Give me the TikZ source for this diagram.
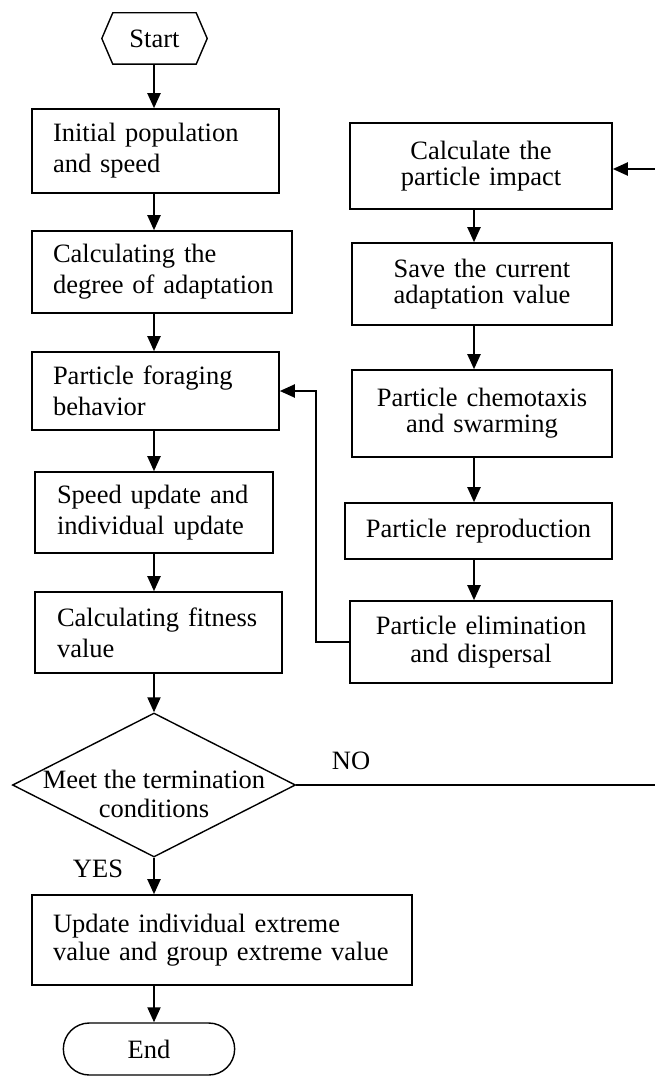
\documentclass[tikz,border=0pt]{standalone}
\usepackage{fontspec}
\setmainfont{Liberation Serif}
\usetikzlibrary{arrows.meta,shapes.geometric,shapes.misc,calc}
\begin{document}
\begin{tikzpicture}[x=1pt,y=-1pt,
  box/.style={draw,line width=1.6pt,rectangle,inner ysep=0pt,font=\fontsize{26.5}{31}\selectfont},
  lbox/.style={box,align=left,inner xsep=21pt},
  rbox/.style={box,align=center,inner xsep=8pt,font=\fontsize{26.5}{26}\selectfont},
  arr/.style={line width=2pt,-{Triangle[width=13pt,length=15pt]}},
  lbl/.style={font=\fontsize{26.5}{29}\selectfont,inner sep=0pt}]
\useasboundingbox (0,0) rectangle (655,1081);
% column coordinates
\coordinate (cL) at (154,0);
\coordinate (cR) at (474,0);
\coordinate (inR) at (655,169);
\coordinate (outR) at (655,785);
\coordinate (fb) at (316,642);
% start
\node[minimum width=105pt,minimum height=51pt,inner sep=0pt,font=\fontsize{26.5}{31}\selectfont] (start) at (154.5,38.5) {Start};
\draw[line width=1.4pt] (start.west) -- ($(start.north west)+(11,0)$) -- ($(start.north east)+(-11,0)$) -- (start.east) -- ($(start.south east)+(-11,0)$) -- ($(start.south west)+(11,0)$) -- cycle;
% left column
\node[lbox,text width=205pt,minimum height=84pt] (b1) at (155.5,151) {\mbox{Initial population}\\and speed};
\node[lbox,text width=218pt,minimum height=82pt] (b2) at (162,272) {\mbox{Calculating the}\\\mbox{degree of adaptation}};
\node[lbox,text width=205pt,minimum height=78pt] (b3) at (155.5,391) {\mbox{Particle foraging}\\behavior};
\node[lbox,inner xsep=22pt,text width=194pt,minimum height=81pt] (b4) at (154,512.5) {\mbox{Speed update and}\\\mbox{individual update}};
\node[lbox,inner xsep=22pt,text width=203pt,minimum height=81pt] (b5) at (158.5,632.5) {\mbox{Calculating fitness}\\value};
\node[diamond,draw,line width=1.4pt,inner sep=0pt,minimum width=283pt,minimum height=144pt] (d) at (154,785) {};
\node[lbl,align=center] (dt) at (154,794) {Meet the termination\\conditions};
\node[lbox,text width=338pt,minimum height=90pt,font=\fontsize{26.5}{28}\selectfont] (b6) at (222,940) {\mbox{Update individual extreme}\\\mbox{value and group extreme value}};
\node[rounded rectangle,draw,line width=1.4pt,minimum width=178pt,minimum height=52pt,font=\fontsize{26.5}{31}\selectfont] (end) at (149,1049) {End};
% right column
\node[rbox,text width=246pt,minimum height=86pt] (rA) at (481,166) {Calculate the\\particle impact};
\node[rbox,text width=244pt,minimum height=82pt] (rB) at (482,284) {Save the current\\adaptation value};
\node[rbox,text width=244pt,minimum height=87pt] (rC) at (482,413.5) {\mbox{Particle chemotaxis}\\and swarming};
\node[rbox,text width=251pt,minimum height=56pt] (rD) at (478.5,531) {\mbox{Particle reproduction}};
\node[rbox,text width=246pt,minimum height=82pt,font=\fontsize{26.5}{28}\selectfont] (rE) at (481,642) {\mbox{Particle elimination}\\and dispersal};
% labels
\node[lbl] (yes) at (98,869) {YES};
\node[lbl] (no) at (351,761) {NO};
% left arrows
\draw[arr] (start.south -| cL) -- (b1.north -| cL);
\draw[arr] (b1.south -| cL) -- (b2.north -| cL);
\draw[arr] (b2.south -| cL) -- (b3.north -| cL);
\draw[arr] (b3.south -| cL) -- (b4.north -| cL);
\draw[arr] (b4.south -| cL) -- (b5.north -| cL);
\draw[arr] (b5.south -| cL) -- (d.north);
\draw[arr] (d.south) -- (b6.north -| cL);
\draw[arr] (b6.south -| cL) -- (end.north -| cL);
% right arrows
\draw[arr] (inR) -- (inR -| rA.east);
\draw[arr] (rA.south -| cR) -- (rB.north -| cR);
\draw[arr] (rB.south -| cR) -- (rC.north -| cR);
\draw[arr] (rC.south -| cR) -- (rD.north -| cR);
\draw[arr] (rD.south -| cR) -- (rE.north -| cR);
% feedback and NO
\draw[arr] (rE.west) -- (fb) |- (b3.east);
\draw[line width=1.2pt] (d.east) -- (outR);
\end{tikzpicture}
\end{document}
